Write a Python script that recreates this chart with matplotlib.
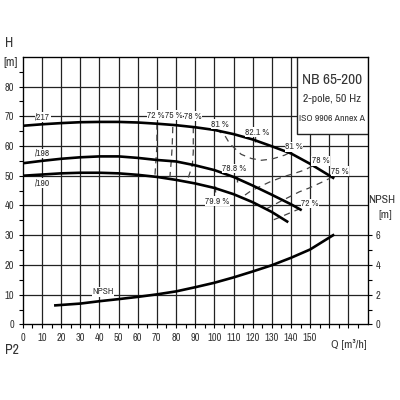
import matplotlib.pyplot as plt
from matplotlib.patches import Rectangle

plt.rcParams['font.family'] = ['Archivo Narrow', 'Liberation Sans', 'DejaVu Sans']

# --- data ---
# Q-H curves for the three impeller diameters
q_217 = [0, 10, 20, 30, 40, 50, 60, 70, 80, 90, 100, 110, 120, 130, 140, 150, 162]
h_217 = [66.8, 67.3, 67.7, 68.0, 68.1, 68.1, 67.9, 67.5, 67.0, 66.3, 65.4, 64.0, 62.2, 59.9, 57.5, 54.0, 49.3]

q_198 = [0, 10, 20, 30, 40, 50, 60, 70, 80, 90, 100, 110, 120, 130, 140, 145]
h_198 = [54.2, 55.0, 55.7, 56.2, 56.5, 56.5, 56.0, 55.3, 54.8, 53.5, 51.9, 49.6, 46.7, 43.6, 40.4, 38.6]

q_190 = [0, 10, 20, 30, 40, 50, 60, 70, 80, 90, 100, 110, 120, 130, 138]
h_190 = [50.0, 50.4, 50.8, 51.0, 51.0, 50.8, 50.3, 49.6, 48.6, 47.4, 45.9, 43.8, 41.1, 37.8, 34.6]

# NPSH curve (right axis, m)
q_npsh = [17, 30, 40, 50, 60, 70, 80, 90, 100, 110, 120, 130, 140, 150, 162]
npsh = [1.28, 1.4, 1.56, 1.7, 1.85, 2.02, 2.22, 2.5, 2.8, 3.16, 3.56, 3.98, 4.48, 5.04, 6.0]

# iso-efficiency lines (dashed)
eff_lines = {
    '72L': ([70, 70, 69.5, 69], [67.6, 60, 55, 50.3]),
    '75L': ([78.3, 78, 77.5, 76.8], [66.4, 60, 55, 49.6]),
    '78L': ([89, 89, 88.5, 86], [66.4, 58, 53.5, 48.6]),
    '81': ([101, 105.4, 108, 114, 119.3, 124.5, 130, 136.6, 140],
           [65.6, 63.6, 60.8, 57.2, 55.8, 55.2, 55.6, 56.9, 58.0]),
    '78R': ([116, 118.4, 123.6, 128.9, 135.7, 141.8, 147, 151],
            [43.5, 44.6, 46.3, 47.9, 49.6, 50.8, 51.9, 53.2]),
    '75R': ([127, 134, 139.2, 144.4, 149.6, 155.7, 160.5],
            [38.8, 41.2, 42.9, 44.6, 45.9, 47.7, 49.2]),
    '72R': ([131, 136.6, 142, 145], [35.2, 36.7, 38.2, 39.0]),
}

eff_labels = ['72 %', '75 %', '78 %', '81 %', '82.1 %', '81 %', '78 %', '75 %', '78.8 %', '79.9 %', '72 %']
eff_label_q = [69.5, 79, 88.8, 103, 122.3, 141.5, 155.5, 165.5, 110.5, 101.5, 150]
eff_label_h = [70.3, 70.3, 70.0, 67.3, 64.6, 59.7, 55.0, 51.5, 52.4, 41.5, 40.7]

# best efficiency points (small tick marks)
bep_q = [121, 112, 100.5]
bep_h = [62.4, 49.0, 45.7]

dia_labels = ['/217', '/198', '/190']
dia_label_q = [10.5, 10.5, 10.5]
dia_label_h = [69.8, 57.5, 47.6]

text_col = '#333333'

fig = plt.figure(figsize=(4, 4), dpi=100)
ax = fig.add_axes([0.057, 0.189, 0.862, 0.669])
ax.set_xlim(0, 180)
ax.set_ylim(0, 90)

# grid
for q in range(10, 180, 10):
    ax.axvline(q, color='#222222', lw=0.9, zorder=1)
for h in range(10, 90, 10):
    ax.axhline(h, color='#222222', lw=0.9, zorder=1)

# curves
for qq, hh in [(q_217, h_217), (q_198, h_198), (q_190, h_190)]:
    ax.plot(qq, hh, color='black', lw=1.9, zorder=4)

for key, (qq, hh) in eff_lines.items():
    ax.plot(qq, hh, color='#444444', lw=0.9, ls=(0, (5, 4)), zorder=3)

ax.plot(bep_q, bep_h, ls='none', marker='|', ms=4, color='#444444', zorder=3)

# efficiency labels
for lab, q, h in zip(eff_labels, eff_label_q, eff_label_h):
    ax.text(q, h, lab, fontsize=6.8, color=text_col, ha='center', va='center', zorder=5,
            bbox=dict(facecolor='white', edgecolor='none', pad=0.3))

for lab, q, h in zip(dia_labels, dia_label_q, dia_label_h):
    ax.text(q, h, lab, fontsize=6.8, color=text_col, ha='center', va='center', zorder=5,
            bbox=dict(facecolor='white', edgecolor='none', pad=0.3))

# title box
ax.add_patch(Rectangle((143, 64), 37, 26, facecolor='white', edgecolor='#222222', lw=1, zorder=6))
ax.text(161.5, 82.1, 'NB 65-200', fontsize=11, color=text_col, ha='center', va='center', zorder=7)
ax.text(161.5, 75.7, '2-pole, 50 Hz', fontsize=8.5, color=text_col, ha='center', va='center', zorder=7)
ax.text(161.5, 69.2, 'ISO 9906 Annex A', fontsize=7, color=text_col, ha='center', va='center', zorder=7)

# axes and ticks
ax.set_xticks(range(0, 180, 10))
ax.set_xticklabels([str(v) if v <= 150 else '' for v in range(0, 180, 10)])
ax.set_xticks(range(5, 180, 10), minor=True)
ax.set_yticks(range(0, 90, 10))
ax.set_yticks(range(5, 90, 10), minor=True)
ax.tick_params(axis='both', which='major', direction='out', length=3, width=0.8,
               labelsize=7.5, labelcolor=text_col, pad=3)
ax.tick_params(axis='both', which='minor', direction='out', length=3, width=0.8)
for s in ax.spines.values():
    s.set_linewidth(0.9)

ax2 = ax.twinx()
ax2.set_ylim(0, 18)
ax2.plot(q_npsh, npsh, color='black', lw=1.9, zorder=4)
ax2.text(42, 2.2, 'NPSH', fontsize=6.8, color=text_col, ha='center', va='center',
         bbox=dict(facecolor='white', edgecolor='none', pad=0.3))
ax2.set_yticks([0, 2, 4, 6])
ax2.set_yticks([1, 3, 5], minor=True)
ax2.tick_params(axis='y', which='major', direction='out', length=3, width=0.8,
                labelsize=7.5, labelcolor=text_col, pad=3)
ax2.tick_params(axis='y', which='minor', direction='out', length=3, width=0.8)

fig.text(0.0225, 0.8925, 'H', fontsize=10, color=text_col, ha='center', va='center')
fig.text(0.027, 0.845, '[m]', fontsize=9, color=text_col, ha='center', va='center')
fig.text(0.03, 0.125, 'P2', fontsize=10, color=text_col, ha='center', va='center')
fig.text(0.872, 0.14, 'Q [m³/h]', fontsize=8.5, color=text_col, ha='center', va='center')
fig.text(0.955, 0.5, 'NPSH', fontsize=8.5, color=text_col, ha='center', va='center')
fig.text(0.963, 0.4625, '[m]', fontsize=8.5, color=text_col, ha='center', va='center')

fig.savefig('out.png', dpi=100, facecolor='white')
